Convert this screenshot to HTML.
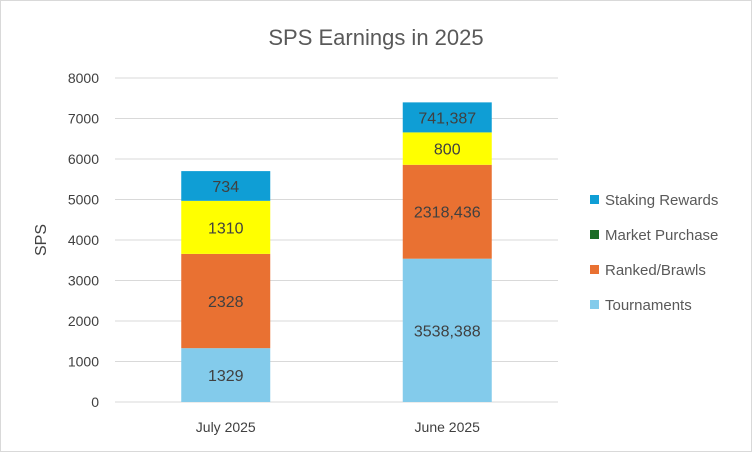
<!DOCTYPE html>
<html><head><meta charset="utf-8">
<style>
html,body{margin:0;padding:0;background:#fff;}
svg{display:block;font-family:"Liberation Sans",sans-serif;}
</style></head>
<body>
<svg id="chart" width="752" height="452" viewBox="0 0 752 452" xmlns="http://www.w3.org/2000/svg">
<rect x="0.5" y="0.5" width="751" height="451" fill="#fff" stroke="#d9d9d9"/>
<text x="376" y="45" text-anchor="middle" font-size="22" fill="#595959">SPS Earnings in 2025</text>
<text transform="translate(46,240) rotate(-90)" text-anchor="middle" font-size="16" fill="#404040">SPS</text>
<g id="grid"></g><g id="bars"></g><g id="labels"></g><g id="legend"></g>
</svg>
<script>
const categories = ["July 2025", "June 2025"];
const tournaments = [1329, 3538.388];
const ranked = [2328, 2318.436];
const yellowSeries = [1310, 800];
const staking = [734, 741.387];
const tournamentsLabels = ["1329", "3538,388"];
const rankedLabels = ["2328", "2318,436"];
const yellowLabels = ["1310", "800"];
const stakingLabels = ["734", "741,387"];
const yTicks = [0, 1000, 2000, 3000, 4000, 5000, 6000, 7000, 8000];

const NS = "http://www.w3.org/2000/svg";
const plotL = 115, plotR = 558, y0 = 402, yTop = 78, yMax = 8000;
const y = v => y0 - (v / yMax) * (y0 - yTop);
const bandW = (plotR - plotL) / categories.length;
const barW = 89;
const xC = i => plotL + bandW * (i + 0.5);
function mk(tag, attrs, parent) {
  const e = document.createElementNS(NS, tag);
  for (const k in attrs) e.setAttribute(k, attrs[k]);
  parent.appendChild(e);
  return e;
}
const grid = document.getElementById("grid");
yTicks.forEach(t => {
  const l = mk("line", {x1: plotL, x2: plotR, y1: y(t), y2: y(t), stroke: "#d9d9d9", "stroke-width": 1}, grid);
  
  
  const tx = mk("text", {x: 99, y: y(t) + 5, "text-anchor": "end", "font-size": 14, fill: "#404040"}, grid);
  
  
  tx.textContent = t;
});
const series = [
  {vals: tournaments, labels: tournamentsLabels, color: "#83cbeb", name: "tournaments"},
  {vals: ranked, labels: rankedLabels, color: "#e97132", name: "ranked-brawls"},
  {vals: yellowSeries, labels: yellowLabels, color: "#ffff00", name: "yellow-series"},
  {vals: staking, labels: stakingLabels, color: "#0f9ed5", name: "staking-rewards"}
];
const bars = document.getElementById("bars"), labels = document.getElementById("labels");
categories.forEach((c, i) => {
  let acc = 0;
  series.forEach(s => {
    const v = s.vals[i];
    const top = y(acc + v), bot = y(acc);
    const r = mk("rect", {x: xC(i) - barW / 2, y: top, width: barW, height: bot - top, fill: s.color}, bars);
    
    
    const t = mk("text", {x: xC(i), y: (top + bot) / 2 + 6, "text-anchor": "middle", "font-size": 16, fill: "#404040"}, labels);
    
    
    t.textContent = s.labels[i];
    acc += v;
  });
  const xl = mk("text", {x: xC(i), y: 432, "text-anchor": "middle", "font-size": 14, fill: "#404040"}, labels);
  
  
  xl.textContent = c;
});
const legendItems = [
  ["Staking Rewards", "#0f9ed5"],
  ["Market Purchase", "#196b24"],
  ["Ranked/Brawls", "#e97132"],
  ["Tournaments", "#83cbeb"]
];
const legend = document.getElementById("legend");
legendItems.forEach((it, k) => {
  const ly = 200 + k * 35;
  const g = mk("g", {}, legend);
  
  
  mk("rect", {x: 590, y: ly - 5, width: 9, height: 9, fill: it[1]}, g);
  const t = mk("text", {x: 605, y: ly + 5, "font-size": 15, fill: "#595959"}, g);
  t.textContent = it[0];
});
</script>
</body></html>
